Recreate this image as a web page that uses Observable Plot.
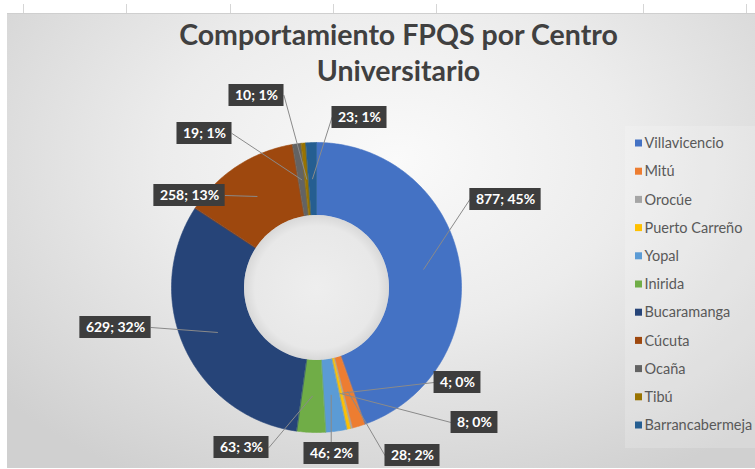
<!DOCTYPE html>
<html><head><meta charset="utf-8">
<script src="https://cdn.jsdelivr.net/npm/d3@7"></script>
<script src="https://cdn.jsdelivr.net/npm/@observablehq/plot@0.6"></script>
<style>
html,body{margin:0;padding:0;background:#fff;}
#wrap{position:relative;width:755px;height:469px;overflow:hidden;}
#bg{position:absolute;left:7px;top:13px;right:0;bottom:1px;background:radial-gradient(ellipse 70% 80% at 52% 32%, #fafafa 0%, #ececec 45%, #d0d0d0 100%);border-top:1px solid #cfcfcf;}
#ticks{position:absolute;left:0;top:4px;width:755px;height:9px;background:repeating-linear-gradient(to right, transparent 0 23px, #d6d6d6 23px 24px, transparent 24px 103.3px);}
#chart{position:absolute;left:0;top:0;}
</style></head><body>
<div id="wrap"><div id="ticks"></div><div id="bg"></div><div id="chart"></div></div>
<script>
// ---- data ----
const centros = ["Villavicencio","Mitú","Orocúe","Puerto Carreño","Yopal","Inirida","Bucaramanga","Cúcuta","Ocaña","Tibú","Barrancabermeja"];
const valores = [877, 28, 4, 8, 46, 63, 629, 258, 19, 10, 23];
const porcentajes = ["45%","2%","0%","0%","2%","3%","32%","13%","1%","1%","1%"];
const colores = ["#4472C4","#ED7D31","#A5A5A5","#FFC000","#5B9BD5","#70AD47","#264478","#9E480E","#636363","#997300","#255E91"];
const titulo = ["Comportamiento FPQS por Centro", "Universitario"];

// ---- layout ----
const W = 755, H = 469, CX = 316, CY = 287, R0 = 72.5, R1 = 145, RL = (R0 + R1) / 2;
const FONT = "Lato, 'Open Sans', sans-serif";
const labelPos = [[505,199],[412,455],[457,382],[474,422],[331,453],[241,447],[115,327],[189,195],[204,133],[256,95],[359,117]];
const legendX = 635, legendY0 = 143, legendStep = 28.2;

const pt = (a, r) => ({x: CX + r * Math.sin(a), y: CY - r * Math.cos(a)});
const arcs = d3.pie().sort(null).value(d => d)(valores);

// slice polygons
const slicePts = [];
arcs.forEach((a, i) => {
  const n = Math.max(2, Math.ceil((a.endAngle - a.startAngle) / 0.01));
  for (let k = 0; k <= n; k++) slicePts.push({name: centros[i], ...pt(a.startAngle + (a.endAngle - a.startAngle) * k / n, R1)});
  for (let k = n; k >= 0; k--) slicePts.push({name: centros[i], ...pt(a.startAngle + (a.endAngle - a.startAngle) * k / n, R0)});
});

// labels
const ctx = document.createElement("canvas").getContext("2d");
ctx.font = `bold 14px ${FONT}`;
const labels = arcs.map((a, i) => {
  const text = `${valores[i]}; ${porcentajes[i]}`;
  const w = ctx.measureText(text).width + 12, h = 22;
  const [cx, cy] = labelPos[i];
  const anchor = pt((a.startAngle + a.endAngle) / 2, RL);
  return {name: centros[i], text, cx, cy, x1: cx - w / 2, x2: cx + w / 2, y1: cy - h / 2, y2: cy + h / 2, anchor};
});
const leaderPts = [];
labels.forEach(l => {
  const {x: ax, y: ay} = l.anchor;
  let s;
  if (ax < l.x1) s = {x: l.x1, y: l.cy};
  else if (ax > l.x2) s = {x: l.x2, y: l.cy};
  else if (ay < l.y1) s = {x: ax, y: l.y1};
  else s = {x: ax, y: l.y2};
  leaderPts.push({name: l.name, ...s}, {name: l.name, x: ax, y: ay});
});

const legend = centros.map((c, i) => ({name: c, y: legendY0 + i * legendStep}));

const chart = Plot.plot({
  width: W, height: H, margin: 0,
  x: {domain: [0, W], range: [0, W], axis: null},
  y: {domain: [0, H], range: [0, H], axis: null},
  color: {domain: centros, range: colores},
  style: {background: "transparent", fontFamily: FONT},
  marks: [
    Plot.rect([0], {x1: 625, x2: W, y1: 126, y2: 448, fill: "#ffffff", fillOpacity: 0.18}),
    Plot.line(slicePts, {x: "x", y: "y", z: "name", fill: "name", stroke: "name", strokeWidth: 0.6, curve: "linear-closed"}),
    Plot.dot([0], {x: () => CX, y: () => CY, r: R0, fill: "url(#holeGrad)", stroke: "none"}),
    Plot.line(leaderPts, {x: "x", y: "y", z: "name", stroke: "#8a8a8a", strokeWidth: 1}),
    Plot.rect(labels, {x1: "x1", x2: "x2", y1: "y1", y2: "y2", fill: "#3d3d3d", ariaLabel: "etiquetas"}),
    Plot.text(labels, {x: "cx", y: "cy", text: "text", fill: "white", fontWeight: "bold", fontSize: 14}),
    Plot.text(titulo, {x: () => 398, y: (d, i) => 35 + i * 36, text: d => d, fill: "#404040", fontWeight: "bold", fontSize: 28.5}),
    Plot.rect(legend, {x1: legendX, x2: legendX + 7, y1: d => d.y - 3.5, y2: d => d.y + 3.5, fill: "name"}),
    Plot.text(legend, {x: legendX + 9, y: "y", text: "name", textAnchor: "start", fill: "#595959", fontSize: 14.5})
  ]
});

const svg = d3.select(chart);
const defs = svg.insert("defs", ":first-child");
const g = defs.append("radialGradient").attr("id", "holeGrad");
g.append("stop").attr("offset", "0%").attr("stop-color", "#eeeeee");
g.append("stop").attr("offset", "85%").attr("stop-color", "#e8e8e8");
g.append("stop").attr("offset", "100%").attr("stop-color", "#d8d8d8");
svg.select("g[aria-label='etiquetas']").style("filter", "drop-shadow(2px 2px 2px rgba(0,0,0,0.45))");
document.getElementById("chart").appendChild(chart);
</script>
</body></html>
